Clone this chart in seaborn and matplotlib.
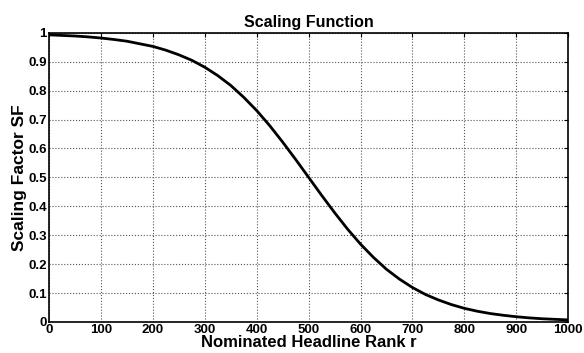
import matplotlib
matplotlib.use("Agg")
import matplotlib.pyplot as plt
import seaborn as sns
import pandas as pd

# values
rank = [0, 25, 50, 75, 100, 125, 150, 175, 200, 225, 250, 275, 300, 325, 350, 375, 400,
        425, 450, 475, 500, 525, 550, 575, 600, 625, 650, 675, 700, 725, 750, 775, 800,
        825, 850, 875, 900, 925, 950, 975, 1000]
sf = [0.993, 0.991, 0.989, 0.986, 0.982, 0.977, 0.971, 0.962, 0.953, 0.940, 0.924, 0.905,
      0.881, 0.852, 0.818, 0.777, 0.731, 0.679, 0.622, 0.562, 0.500, 0.438, 0.378, 0.321,
      0.269, 0.223, 0.182, 0.148, 0.119, 0.095, 0.076, 0.060, 0.047, 0.037, 0.029, 0.023,
      0.018, 0.014, 0.011, 0.009, 0.007]
x_ticks = [0, 100, 200, 300, 400, 500, 600, 700, 800, 900, 1000]
y_ticks = [0, 0.1, 0.2, 0.3, 0.4, 0.5, 0.6, 0.7, 0.8, 0.9, 1]

sns.set_style("white")
plt.rcParams['font.family'] = ['Liberation Sans', 'DejaVu Sans']
plt.rcParams['text.color'] = 'black'
plt.rcParams['axes.labelcolor'] = 'black'
plt.rcParams['xtick.color'] = 'black'
plt.rcParams['ytick.color'] = 'black'

df = pd.DataFrame({"r": rank, "SF": sf})

fig = plt.figure(figsize=(5.84, 3.53), dpi=100)
ax = fig.add_axes([0.084, 0.088, 0.889, 0.819])
sns.lineplot(data=df, x="r", y="SF", color="black", linewidth=2, ax=ax)

ax.set_xlim(0, 1000)
ax.set_ylim(0, 1)
ax.set_xticks(x_ticks)
ax.set_yticks(y_ticks)
ax.set_yticklabels(["0", "0.1", "0.2", "0.3", "0.4", "0.5", "0.6", "0.7", "0.8", "0.9", "1"])
ax.grid(True, linestyle=":", color="#555555", linewidth=0.8)
ax.tick_params(direction="in", top=True, right=True, length=3, labelsize=9.5, pad=1.5)
for lab in ax.get_xticklabels() + ax.get_yticklabels():
    lab.set_fontweight("bold")
for s in ax.spines.values():
    s.set_color("black")
    s.set_linewidth(1.2)

ax.set_xlabel("Nominated Headline Rank r", fontsize=12, fontweight="bold", labelpad=-1)
ax.set_ylabel("Scaling Factor SF", fontsize=12.5, fontweight="bold", labelpad=1)
ax.set_title("Scaling Function", fontsize=11.5, fontweight="bold", pad=4)

fig.savefig("out.png", dpi=100)
